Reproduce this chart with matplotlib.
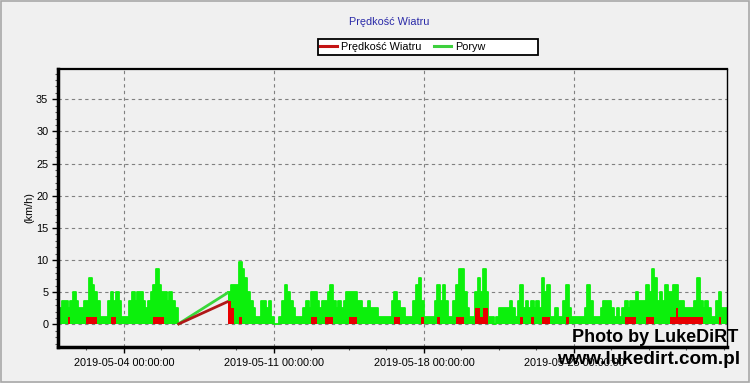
import matplotlib
matplotlib.use('Agg')
import matplotlib.pyplot as plt
import matplotlib.dates as mdates
from matplotlib.lines import Line2D
from matplotlib.patches import Rectangle
from matplotlib.ticker import FixedLocator, MultipleLocator
import pandas as pd

plt.rcParams['font.family'] = ['Liberation Sans', 'DejaVu Sans']

title = 'Prędkość Wiatru'
series_names = ['Prędkość Wiatru', 'Poryw']
y_label = '(km/h)'
major_dates = ['2019-05-04', '2019-05-11', '2019-05-18', '2019-05-25']
y_ticks = [0, 5, 10, 15, 20, 25, 30, 35]

# two recorded stretches (3-hour samples), with a gap in between
seg1_start = '2019-05-01 00:00'
seg2_start = '2019-05-08 21:00'
sample_step = '3h'

gust_1 = [2.5, 3.6, 3.6, 2.5, 3.6, 5.0, 3.6, 2.5,
          2.5, 3.6, 3.6, 7.2, 6.1, 5.0, 3.6, 1.1,
          1.1, 1.1, 3.6, 5.0, 3.6, 5.0, 3.6, 1.1,
          1.1, 1.1, 3.6, 5.0, 3.6, 5.0, 5.0, 3.6,
          2.5, 3.6, 5.0, 6.1, 8.6, 6.1, 5.0, 5.0,
          3.6, 5.0, 3.6, 2.5, 0.0]
speed_1 = [0, 0, 0, 1.1, 0, 0, 0, 0,
           0, 0, 1.1, 1.1, 1.1, 1.1, 0, 0,
           0, 0, 0, 1.1, 1.1, 0, 0, 0,
           0, 0, 0, 0, 0, 0, 0, 0,
           0, 0, 0, 1.1, 1.1, 1.1, 1.1, 0,
           0, 0, 0, 0, 0]

gust_2 = [5.0, 6.1, 6.1, 6.1, 9.7, 8.6, 7.2, 5.0,
          3.6, 2.5, 1.1, 1.1, 3.6, 3.6, 2.5, 3.6,
          1.1, 0.0, 0.0, 1.1, 3.6, 6.1, 5.0, 3.6,
          2.5, 1.1, 1.1, 1.1, 2.5, 3.6, 2.5, 5.0,
          5.0, 3.6, 2.5, 3.6, 3.6, 5.0, 6.1, 3.6,
          2.5, 3.6, 2.5, 3.6, 5.0, 5.0, 5.0, 5.0,
          3.6, 3.6, 2.5, 2.5, 3.6, 2.5, 2.5, 2.5,
          1.1, 1.1, 1.1, 1.1, 1.1, 3.6, 5.0, 3.6,
          2.5, 2.5, 1.1, 1.1, 1.1, 3.6, 6.1, 7.2,
          3.6, 1.1, 1.1, 1.1, 1.1, 3.6, 6.1, 3.6,
          6.1, 3.6, 1.1, 1.1, 3.6, 6.1, 8.6, 8.6,
          5.0, 2.5, 1.1, 1.1, 5.0, 7.2, 5.0, 8.6,
          5.0, 1.1, 1.1, 0.0, 1.1, 2.5, 2.5, 2.5,
          2.5, 3.6, 2.5, 1.1, 3.6, 6.1, 2.5, 3.6,
          2.5, 3.6, 2.5, 3.6, 2.5, 7.2, 5.0, 6.1,
          1.1, 1.1, 2.5, 1.1, 1.1, 3.6, 6.1, 2.5,
          1.1, 1.1, 1.1, 1.1, 1.1, 2.5, 6.1, 3.6,
          1.1, 1.1, 1.1, 2.5, 3.6, 3.6, 3.6, 2.5,
          1.1, 2.5, 1.1, 2.5, 3.6, 2.5, 3.6, 3.6,
          5.0, 3.6, 3.6, 3.6, 6.1, 5.0, 8.6, 7.2,
          3.6, 5.0, 3.6, 6.1, 5.0, 5.0, 6.1, 6.1,
          3.6, 3.6, 2.5, 2.5, 2.5, 2.5, 3.6, 7.2,
          3.6, 2.5, 3.6, 2.5, 1.1, 1.1, 3.6, 5.0,
          2.5, 2.5, 2.5]
speed_2 = [3.6, 2.5, 0, 0, 1.1, 0, 0, 0,
           0, 0, 0, 0, 0, 0, 0, 0,
           0, 0, 0, 0, 0, 0, 0, 0,
           0, 0, 0, 0, 0, 0, 0, 1.1,
           1.1, 0, 0, 0, 1.1, 1.1, 1.1, 0,
           0, 0, 0, 0, 0, 1.1, 1.1, 1.1,
           0, 0, 0, 0, 0, 0, 0, 0,
           0, 0, 0, 0, 0, 0, 1.1, 1.1,
           0, 0, 0, 0, 0, 0, 0, 0,
           1.1, 0, 0, 0, 0, 0, 1.1, 0,
           0, 0, 0, 0, 0, 1.1, 1.1, 1.1,
           0, 0, 0, 0, 2.5, 2.5, 1.1, 2.5,
           2.5, 0, 0, 0, 0, 0, 0, 0,
           0, 0, 0, 0, 0, 1.1, 0, 0,
           0, 1.1, 0, 0, 0, 1.1, 1.1, 1.1,
           0, 0, 0, 0, 0, 0, 1.1, 0,
           0, 0, 0, 0, 0, 0, 0, 0,
           0, 0, 0, 0, 0, 0, 0, 0,
           0, 0, 0, 0, 1.1, 1.1, 1.1, 1.1,
           0, 0, 0, 0, 1.1, 1.1, 1.1, 0,
           0, 0, 0, 0, 0, 1.1, 1.1, 2.5,
           1.1, 1.1, 1.1, 1.1, 1.1, 1.1, 1.1, 1.1,
           1.1, 0, 0, 0, 0, 0, 0, 1.1,
           0, 0, 0]

t1 = pd.date_range(seg1_start, periods=len(gust_1), freq=sample_step)
t2 = pd.date_range(seg2_start, periods=len(gust_2), freq=sample_step)

BG = '#f0f0f0'
GREEN = '#0cf00c'
RED = '#e80000'

fig = plt.figure(figsize=(7.5, 3.83), dpi=100, facecolor=BG)
ax = fig.add_axes([0.0773, 0.094, 0.892, 0.7258])
ax.set_facecolor(BG)

# gust (green)
for t, g in ((t1, gust_1), (t2, gust_2)):
    ax.fill_between(t, 0, g, step='post', color=GREEN, lw=0, zorder=2)
    ax.step(t, g, where='post', color=GREEN, lw=1.3, zorder=2)
ax.plot([t1[-1], t2[0]], [gust_1[-1], gust_2[0]], color='#3ad83a', lw=2.0,
        zorder=2, solid_capstyle='butt')

# wind speed (red)
for t, s in ((t1, speed_1), (t2, speed_2)):
    ax.fill_between(t, 0, s, step='post', color=RED, lw=0, zorder=3)
ax.plot([t1[-1], t2[0]], [speed_1[-1], speed_2[0]], color='#b01818', lw=2.0,
        zorder=3, solid_capstyle='butt')

# axes limits
x_left = pd.Timestamp(seg1_start) - pd.Timedelta(hours=1.9)
x_right = pd.Timestamp(seg1_start) + pd.Timedelta(hours=747.4)
ax.set_xlim(x_left, x_right)
ax.set_ylim(-3.5, 39.7)

# ticks
majors = [pd.Timestamp(d) for d in major_dates]
ax.xaxis.set_major_locator(FixedLocator(mdates.date2num(majors)))
minor_step = pd.Timedelta(hours=42)
minors = []
m = majors[0]
while m > x_left:
    m -= minor_step
m += minor_step
while m < x_right:
    minors.append(m)
    m += minor_step
ax.xaxis.set_minor_locator(FixedLocator(mdates.date2num(minors)))
ax.xaxis.set_major_formatter(mdates.DateFormatter('%Y-%m-%d %H:%M:%S'))
ax.set_yticks(y_ticks)
ax.yaxis.set_minor_locator(MultipleLocator(1))

ax.tick_params(axis='both', which='major', labelsize=7.8, length=4, width=1,
               color='black', direction='out', pad=3)
ax.tick_params(axis='x', which='major', pad=4)
ax.tick_params(axis='both', which='minor', length=2.5, width=0.8, color='#555555')

ax.grid(True, which='major', color='#808080', lw=0.8, ls=(0, (3, 3)), zorder=1)

for side in ('left', 'bottom'):
    ax.spines[side].set_linewidth(2.5)
ax.spines['top'].set_linewidth(1.6)
ax.spines['right'].set_linewidth(1.0)
for s in ax.spines.values():
    s.set_color('black')

ax.set_ylabel(y_label, fontsize=7.8, labelpad=1)

# title
fig.text(389.5 / 750, 1 - 22 / 383, title, ha='center', va='center',
         fontsize=7.8, color='#2a2aa8')

# legend box
box = Rectangle((318 / 750, 1 - 55 / 383), 220 / 750, 16 / 383,
                transform=fig.transFigure, facecolor='white', edgecolor='black',
                lw=1.3, zorder=5)
fig.patches.append(box)
handles = [Line2D([], [], color='#c41414', lw=2.2),
           Line2D([], [], color='#3ed03e', lw=2.2)]
leg = fig.legend(handles, series_names, loc='center left',
                 bbox_to_anchor=(319 / 750, 1 - 47 / 383), ncol=2, fontsize=7.8,
                 frameon=False, handlelength=1.6, handletextpad=0.35,
                 columnspacing=1.1, borderpad=0.1, borderaxespad=0)
leg.set_zorder(6)

# watermark
fig.text(738 / 750, 1 - 337 / 383, 'Photo by LukeDiRT', ha='right', va='center',
         fontsize=13, fontweight='bold', color='black', zorder=10)
fig.text(740 / 750, 1 - 360 / 383, 'www.lukedirt.com.pl', ha='right', va='center',
         fontsize=13.6, fontweight='bold', color='black', zorder=10)

# outer frame
frame = Rectangle((0.001, 0.002), 0.997, 0.996, transform=fig.transFigure,
                  fill=False, edgecolor='#a8a8a8', lw=1.2)
fig.patches.append(frame)

fig.savefig('out.png', dpi=100, facecolor=BG)
